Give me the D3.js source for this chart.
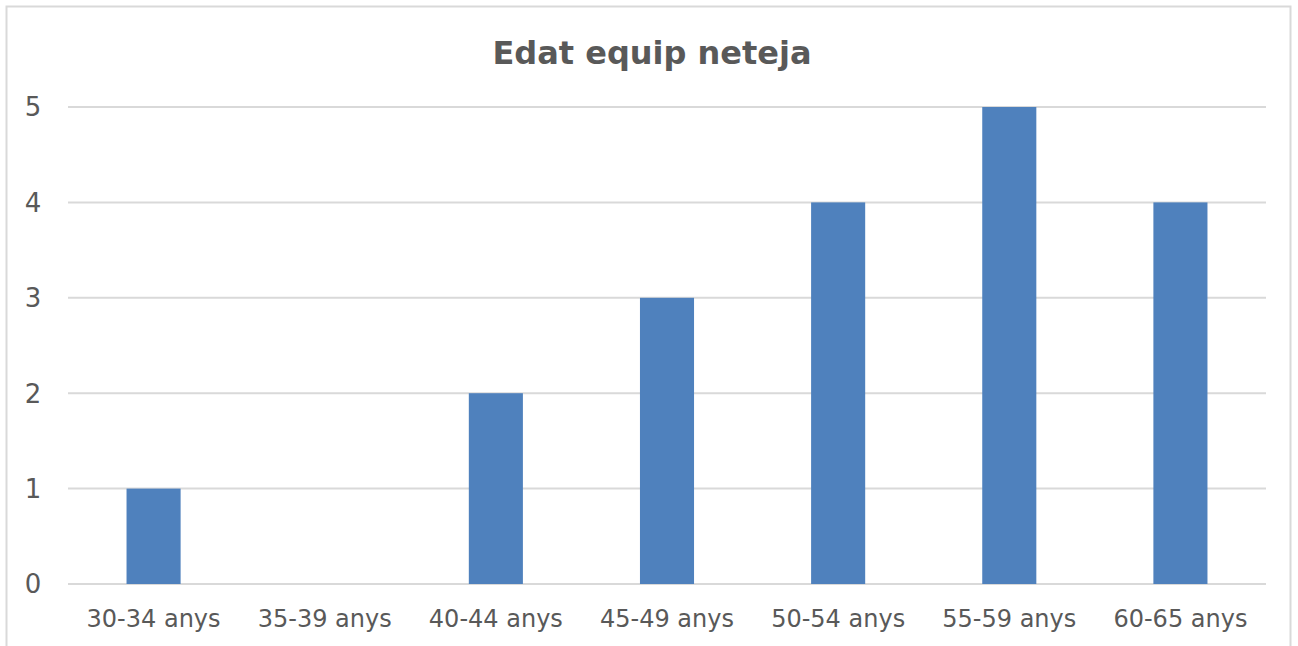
<!DOCTYPE html>
<html>
<head>
<meta charset="utf-8">
<script src="https://cdn.jsdelivr.net/npm/d3@7"></script>
<style>
  body { margin: 0; background: #fff; }
  text { font-family: "Century Gothic", "DejaVu Sans", sans-serif; fill: #595959; }
</style>
</head>
<body>
<script>
var categories = ["30-34 anys", "35-39 anys", "40-44 anys", "45-49 anys", "50-54 anys", "55-59 anys", "60-65 anys"];
var values = [1, 0, 2, 3, 4, 5, 4];
var yTicks = [0, 1, 2, 3, 4, 5];
var title = "Edat equip neteja";

var width = 1298;
var height = 646;
var plotLeft = 68, plotRight = 1266, plotTop = 107, plotBottom = 584;

var svg = d3.select("body").append("svg")
  .attr("width", width)
  .attr("height", height);

// chart border
svg.append("rect")
  .attr("x", 6.5).attr("y", 6.5)
  .attr("width", 1284).attr("height", 680)
  .attr("fill", "#fff")
  .attr("stroke", "#d9d9d9")
  .attr("stroke-width", 2);

var x = d3.scaleBand()
  .domain(categories)
  .range([plotLeft, plotRight])
  .paddingInner(0.684)
  .paddingOuter(0.342);

var y = d3.scaleLinear()
  .domain([0, 5])
  .range([plotBottom, plotTop]);

// gridlines
svg.selectAll("line.grid")
  .data(yTicks)
  .enter().append("line")
  .attr("class", "grid")
  .attr("x1", plotLeft).attr("x2", plotRight)
  .attr("y1", function(d) { return y(d); })
  .attr("y2", function(d) { return y(d); })
  .attr("stroke", "#d9d9d9")
  .attr("stroke-width", 2);

// bars
svg.selectAll("rect.bar")
  .data(values)
  .enter().append("rect")
  .attr("class", "bar")
  .attr("x", function(d, i) { return x(categories[i]); })
  .attr("width", x.bandwidth())
  .attr("y", function(d) { return y(d); })
  .attr("height", function(d) { return y(0) - y(d); })
  .attr("fill", "#4f81bd");

// y tick labels
svg.selectAll("text.ytick")
  .data(yTicks)
  .enter().append("text")
  .attr("class", "ytick")
  .attr("x", 33)
  .attr("y", function(d) { return y(d); })
  .attr("dy", "0.36em")
  .attr("text-anchor", "middle")
  .style("font-size", "26px")
  .text(function(d) { return d; });

// x labels
svg.selectAll("text.xlab")
  .data(categories)
  .enter().append("text")
  .attr("class", "xlab")
  .attr("x", function(d) { return x(d) + x.bandwidth() / 2; })
  .attr("y", 627)
  .attr("text-anchor", "middle")
  .style("font-size", "24px")
  .text(function(d) { return d; });

svg.append("text")
  .attr("x", 652)
  .attr("y", 64)
  .attr("text-anchor", "middle")
  .style("font-size", "32px")
  .style("font-weight", "bold")
  .text(title);
</script>
</body>
</html>
